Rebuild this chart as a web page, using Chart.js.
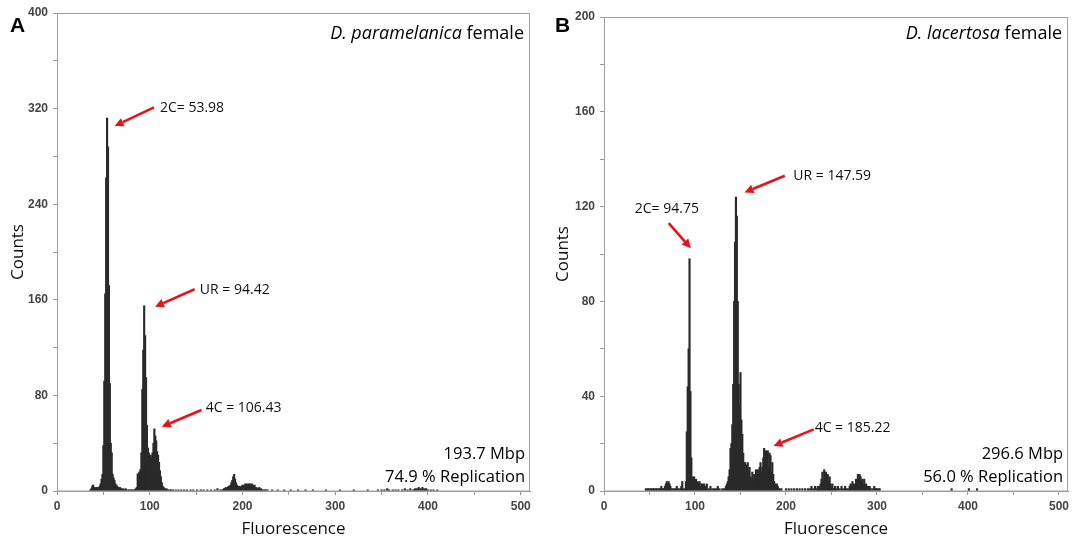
<!DOCTYPE html>
<html lang="en">
<head>
  <meta charset="UTF-8" />
  <title>Genome size histograms</title>
  <script src="https://cdn.jsdelivr.net/npm/chart.js"></script>
  <style>
    body { margin: 0; background: #fff; }
    .panel { position: absolute; top: 0; height: 541px; }
    #panelA { left: 0; width: 540px; }
    #panelB { left: 545px; width: 528px; }
  </style>
</head>
<body>
  <div class="panel" id="panelA"><canvas id="chartA"></canvas></div>
  <div class="panel" id="panelB"><canvas id="chartB"></canvas></div>

  <script>
    // ---------- Panel A : D. paramelanica female ----------
    // counts per fluorescence channel, given as runs of consecutive channels
    const aRun1Start = 36;
    const aRun1 = [
      1, 2, 4, 5, 3, 2, 3, 2, 3, 2,            // 36-45
      4, 6, 10, 14, 38, 92, 165, 262, 312, 288, // 46-55
      172, 90, 40, 32, 14, 11, 9, 6, 5, 4,      // 56-65
      3, 2, 3, 2, 1, 2, 1, 1, 2, 1,             // 66-75
      0, 1, 1, 0, 1, 1, 0, 1, 1, 2,             // 76-85
      3, 14, 15, 16, 18, 32, 85, 118, 155, 130, // 86-95
      95, 55, 36, 32, 30, 30, 28, 32, 40, 52,   // 96-105
      46, 42, 33, 30, 24, 17, 12, 7, 4, 3,      // 106-115
      2, 1, 2, 1, 1, 0, 1, 1, 0, 1              // 116-125
    ];
    const aRun2Start = 178;
    const aRun2 = [
      1, 1, 2, 2, 3, 2, 3, 4, 4, 5,   // 178-187
      7, 9, 12, 14, 10, 7, 5, 4, 3, 4, // 188-197
      3, 4, 5, 4, 5, 6, 5, 6, 5, 6,   // 198-207
      6, 5, 6, 5, 4, 5, 3, 3, 2, 2,   // 208-217
      3, 1, 2, 1, 1, 0, 1, 1, 0, 1    // 218-227
    ];
    const aNoiseChannels = [128, 131, 134, 137, 140, 144, 147, 151, 155, 158, 162, 166, 170, 173, 176,
      232, 238, 245, 252, 260, 268, 276, 290, 305, 320, 335,
      346, 350, 353, 356, 358, 362, 365, 368, 372, 375, 378, 381, 384, 386, 388, 390, 392, 394, 396, 398, 400, 403, 406, 410];
    const aNoiseCounts = [1, 1, 1, 1, 1, 1, 1, 1, 1, 1, 1, 1, 1, 2, 1,
      1, 1, 1, 1, 1, 1, 1, 1, 1, 1, 1,
      1, 1, 1, 2, 1, 1, 1, 1, 1, 2, 1, 2, 1, 2, 2, 3, 2, 3, 2, 2, 1, 1, 1, 1];
    const noteLabelsA = ['2C= 53.98', 'UR = 94.42', '4C = 106.43'];

    // ---------- Panel B : D. lacertosa female ----------
    const bRun1Start = 46;
    const bRun1 = [
      1, 0, 1, 1, 0, 1, 1, 0, 1, 1,          // 46-55
      0, 1, 1, 0, 1, 1, 1, 2, 1, 1,          // 56-65
      1, 2, 3, 4, 3, 4, 3, 2, 1, 0,          // 66-75
      1, 0, 1, 0, 2, 0, 1, 0, 1, 2,          // 76-85
      4, 1, 0, 1, 4, 25, 44, 60, 98, 42,     // 86-95
      14, 6, 5, 6, 4, 5, 3, 4, 3, 4,         // 96-105
      2, 3, 3, 2, 3, 1, 2, 3, 0, 1,          // 106-115
      0, 2, 0, 1, 0, 1, 0, 1, 0, 2,          // 116-125
      0, 1, 0, 0, 1, 0, 1, 0, 2, 3,          // 126-135
      4, 6, 9, 18, 20, 28, 45, 80, 105, 124, // 136-145
      116, 80, 45, 36, 50, 30, 24, 16, 12, 12, // 146-155
      11, 9, 12, 8, 10, 6, 5, 8, 4, 7,       // 156-165
      6, 9, 5, 9, 7, 10, 12, 8, 10, 14,      // 166-175
      18, 12, 17, 11, 17, 10, 16, 15, 8, 12, // 176-185
      7, 4, 3, 2, 3, 2, 1, 1, 0, 1           // 186-195
    ];
    const bRun2Start = 235;
    const bRun2 = [
      2, 1, 2, 3, 5, 8, 4, 9, 6, 8,  // 235-244
      5, 7, 4, 6, 3, 2, 3, 1, 1, 2   // 245-254
    ];
    const bRun3Start = 270;
    const bRun3 = [
      2, 3, 2, 4, 3, 2, 3, 5, 4, 7,  // 270-279
      5, 7, 6, 4, 5, 3, 5, 2, 3, 2,  // 280-289
      2, 1, 2, 1, 0, 1, 0, 2, 1, 1,  // 290-299
      1, 0, 1, 1                     // 300-303
    ];
    const bNoiseChannels = [200, 203, 206, 209, 212, 215, 218, 221, 224, 226, 228, 230, 232, 234,
      255, 257, 259, 261, 263, 265, 267, 269, 382, 401, 410];
    const bNoiseCounts = [1, 1, 1, 1, 1, 1, 1, 1, 1, 1, 2, 1, 2, 1,
      1, 2, 1, 2, 1, 2, 1, 1, 1, 1, 1];
    const noteLabelsB = ['2C= 94.75', 'UR = 147.59', '4C = 185.22'];

    const xTickLabels = [0, 100, 200, 300, 400, 500];

    function runPoints(start, counts) {
      return counts.map((c, i) => ({ x: start + i, y: c }));
    }
    function listPoints(channels, counts) {
      return channels.map((ch, i) => ({ x: ch, y: counts[i] }));
    }

    const textFont = '"Open Sans", "Noto Sans", sans-serif';

    // frame, panel letter, species name, red arrows and notes
    const panelText = {
      id: 'panelText',
      afterDraw(chart, args, o) {
        const { ctx, chartArea: a, scales: { x, y } } = chart;
        ctx.save();
        ctx.strokeStyle = '#a0a0a0';
        ctx.lineWidth = 1;
        ctx.strokeRect(a.left + 0.5, a.top + 0.5, a.width - 1, a.height - 0.5);

        ctx.fillStyle = '#000';
        ctx.textBaseline = 'middle';
        ctx.textAlign = 'left';
        ctx.font = 'bold 21px "Liberation Sans", Arial, sans-serif';
        ctx.fillText(o.letter, 10, 26);

        // species name: italic genus/species + plain "female"
        ctx.textAlign = 'right';
        ctx.font = '18px ' + textFont;
        const r = a.right - 6;
        ctx.fillText(o.sex, r, 34);
        const w = ctx.measureText(' ' + o.sex).width;
        ctx.font = 'italic 18px ' + textFont;
        ctx.fillText(o.species, r - w, 34);

        ctx.font = '16.5px ' + textFont;
        ctx.fillText(o.size, a.right - 5, a.bottom - 37);
        ctx.fillText(o.repl, a.right - 5, a.bottom - 14);

        o.notes.forEach((n, i) => {
          const x0 = x.getPixelForValue(n.tail[0]), y0 = y.getPixelForValue(n.tail[1]);
          const x1 = x.getPixelForValue(n.head[0]), y1 = y.getPixelForValue(n.head[1]);
          const ang = Math.atan2(y1 - y0, x1 - x0);
          const c = Math.cos(ang), s = Math.sin(ang);
          const L = 9, W = 4.5;
          ctx.strokeStyle = '#e3141b';
          ctx.fillStyle = '#e3141b';
          ctx.lineWidth = 2.6;
          ctx.beginPath();
          ctx.moveTo(x0, y0);
          ctx.lineTo(x1 - L * c, y1 - L * s);
          ctx.stroke();
          ctx.beginPath();
          ctx.moveTo(x1, y1);
          ctx.lineTo(x1 - L * c - W * s, y1 - L * s + W * c);
          ctx.lineTo(x1 - L * c + W * s, y1 - L * s - W * c);
          ctx.closePath();
          ctx.fill();

          ctx.fillStyle = '#111';
          ctx.textAlign = 'left';
          ctx.font = '14px ' + textFont;
          ctx.fillText(o.labels[i], x.getPixelForValue(n.text[0]), y.getPixelForValue(n.text[1]));
        });
        ctx.restore();
      }
    };

    function makeChart(id, points, yMax, yMinor, yMajor, extra) {
      return new Chart(document.getElementById(id), {
        type: 'bar',
        data: {
          datasets: [{
            data: points,
            backgroundColor: '#2a2a2a',
            barThickness: 1.5,
            grouped: false
          }]
        },
        options: {
          responsive: true,
          maintainAspectRatio: false,
          animation: false,
          layout: { padding: extra.padding },
          plugins: {
            legend: { display: false },
            tooltip: { enabled: false },
            panelText: extra.text
          },
          scales: {
            x: {
              type: 'linear',
              min: 0,
              max: 510,
              offset: false,
              afterFit: s => { s.height = 50; },
              border: { color: '#9a9a9a' },
              grid: { offset: false, drawOnChartArea: false, tickLength: 4, color: '#9a9a9a' },
              ticks: {
                stepSize: 50,
                includeBounds: false,
                padding: 4,
                color: '#444',
                font: { family: '"Liberation Sans", Arial, sans-serif', size: 12, weight: 'bold' },
                maxRotation: 0,
                autoSkip: false,
                callback: v => xTickLabels.includes(v) ? v : ''
              },
              title: {
                display: true,
                text: 'Fluorescence',
                color: '#111',
                padding: { top: 0, bottom: 2 },
                font: { family: textFont, size: 17 }
              }
            },
            y: {
              min: 0,
              max: yMax,
              afterFit: s => { s.width = extra.yWidth; },
              border: { color: '#9a9a9a' },
              grid: { drawOnChartArea: false, tickLength: 4, color: '#9a9a9a' },
              ticks: {
                stepSize: yMinor,
                padding: 5,
                color: '#444',
                font: { family: '"Liberation Sans", Arial, sans-serif', size: 12, weight: 'bold' },
                autoSkip: false,
                callback: v => v % yMajor === 0 ? v : ''
              },
              title: {
                display: true,
                text: 'Counts',
                color: '#111',
                padding: { top: 8, bottom: 0 },
                font: { family: textFont, size: 17 }
              }
            }
          }
        },
        plugins: [panelText]
      });
    }

    makeChart('chartA',
      runPoints(aRun1Start, aRun1)
        .concat(runPoints(aRun2Start, aRun2))
        .concat(listPoints(aNoiseChannels, aNoiseCounts)),
      400, 40, 80,
      {
        yWidth: 57,
        padding: { top: 13, right: 10, bottom: 0, left: 0 },
        text: {
          letter: 'A', species: 'D. paramelanica', sex: 'female',
          size: '193.7 Mbp', repl: '74.9 % Replication',
          labels: noteLabelsA,
          notes: [
            { text: [111, 320.5], tail: [104.6, 321], head: [62.2, 305.4] },
            { text: [154, 168], tail: [148.4, 168.8], head: [105.7, 154.2] },
            { text: [160.3, 69.2], tail: [155.8, 67.8], head: [113, 53.8] }
          ]
        }
      });

    makeChart('chartB',
      runPoints(bRun1Start, bRun1)
        .concat(runPoints(bRun2Start, bRun2))
        .concat(runPoints(bRun3Start, bRun3))
        .concat(listPoints(bNoiseChannels, bNoiseCounts)),
      200, 20, 40,
      {
        yWidth: 59,
        padding: { top: 17, right: 1, bottom: 0, left: 0 },
        text: {
          letter: 'B', species: 'D. lacertosa', sex: 'female',
          size: '296.6 Mbp', repl: '56.0 % Replication',
          labels: noteLabelsB,
          notes: [
            { text: [33.8, 118.9], tail: [71.1, 113], head: [95.5, 102.4] },
            { text: [208, 133], tail: [198.7, 133], head: [154.4, 126] },
            { text: [231.5, 26.4], tail: [230.5, 26], head: [186.3, 19] }
          ]
        }
      });
  </script>
</body>
</html>
